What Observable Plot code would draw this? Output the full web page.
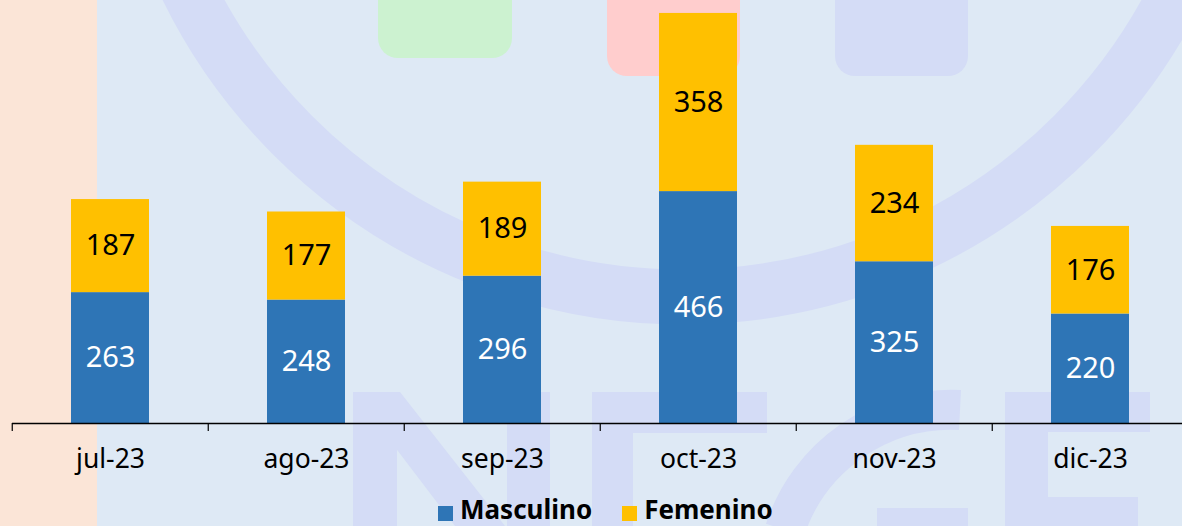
<!DOCTYPE html>
<html>
<head>
<meta charset="utf-8">
<script src="https://cdn.jsdelivr.net/npm/d3@7"></script>
<script src="https://cdn.jsdelivr.net/npm/@observablehq/plot@0.6"></script>
<style>
  body { margin: 0; background: #dee9f5; }
  #wrap { position: relative; width: 1182px; height: 526px; overflow: hidden; background: #dee9f5; font-family: "Noto Sans", sans-serif; }
  #deco { position: absolute; left: 0; top: 0; }
  #chart { position: absolute; left: 0; top: 0; }
  #legend { position: absolute; left: 438px; top: 494px; height: 30px; display: flex; align-items: center; font-weight: bold; font-size: 26px; color: #000; }
  .sw { width: 15px; height: 15px; display: inline-block; margin-right: 7px; margin-top: 8px; }
  .item { display: flex; align-items: center; margin-right: 30px; line-height: 30px; }
</style>
</head>
<body>
<div id="wrap">
  <svg id="deco" width="1182" height="526">
    <rect x="0" y="0" width="97" height="526" fill="#fbe5d7"/>
    <circle cx="683" cy="-255" r="552" fill="none" stroke="#d4dcf6" stroke-width="55"/>
    <rect x="378" y="-20" width="134" height="78" rx="20" fill="#ccf2d0"/>
    <rect x="607" y="-20" width="133" height="96" rx="20" fill="#ffcdcd"/>
    <rect x="835" y="-20" width="133" height="96" rx="20" fill="#d4dcf6"/>
    <g fill="#d4dcf6">
      <rect x="353" y="392" width="44" height="140"/>
      <rect x="507" y="392" width="43" height="140"/>
      <polygon points="353,392 400,392 505,526 455,526"/>
      <rect x="592" y="392" width="41" height="140"/>
      <rect x="592" y="392" width="175" height="41"/>
      <rect x="1005" y="392" width="43" height="140"/>
      <rect x="1005" y="392" width="145" height="40"/>
      <rect x="1048" y="497" width="90" height="35"/>
      <rect x="877" y="508" width="91" height="30"/>
    </g>
    <path d="M 960 410 A 175 175 0 0 0 785 530" fill="none" stroke="#d4dcf6" stroke-width="40"/>
  </svg>
  <div id="chart"></div>
  <div id="legend"></div>
</div>
<script>
const months = ["jul-23", "ago-23", "sep-23", "oct-23", "nov-23", "dic-23"];
const series = ["Masculino", "Femenino"];
const colors = ["#2e75b6", "#ffc000"];
const labelColors = ["#ffffff", "#000000"];
const masculino = [263, 248, 296, 466, 325, 220];
const femenino = [187, 177, 189, 358, 234, 176];

const values = [masculino, femenino];
const data = [];
series.forEach((s, i) => months.forEach((m, j) => data.push({month: m, sexo: s, value: values[i][j]})));

const stackOpts = {x: "month", y: "value", z: "sexo", order: series};

const labelMarks = series.map((s, i) =>
  Plot.text(data, Plot.stackY({...stackOpts, text: d => d.sexo === s ? d.value : null, fill: labelColors[i], fontSize: 29}))
);

const plot = Plot.plot({
  width: 1182,
  height: 494,
  marginLeft: 12,
  marginRight: 0,
  marginTop: 0,
  marginBottom: 71,
  style: {background: "transparent", fontFamily: "Noto Sans", color: "#000", overflow: "visible"},
  x: {domain: months, range: [11, 1190], paddingInner: 0.6, paddingOuter: 0.3, label: null},
  y: {domain: [0, 850], range: [423, 0], axis: null},
  color: {domain: series, range: colors},
  marks: [
    Plot.barY(data, {...stackOpts, fill: "sexo"}),
    ...labelMarks,
    Plot.ruleY([0], {stroke: "#000", strokeWidth: 1.5}),
    Plot.ruleX(months, {x: d => d, dx: -98.25, y1: 0, y2: -16, stroke: "#000", strokeWidth: 1.2}),
    Plot.axisX({tickSize: 0, tickPadding: 26, fontSize: 26.5, fill: "#000"})
  ]
});
document.getElementById("chart").appendChild(plot);

const legend = document.getElementById("legend");
series.forEach((s, i) => {
  const item = document.createElement("div");
  item.className = "item";
  const sw = document.createElement("span");
  sw.className = "sw";
  sw.style.background = colors[i];
  const t = document.createElement("span");
  t.textContent = s;
  item.appendChild(sw);
  item.appendChild(t);
  legend.appendChild(item);
});
</script>
</body>
</html>
